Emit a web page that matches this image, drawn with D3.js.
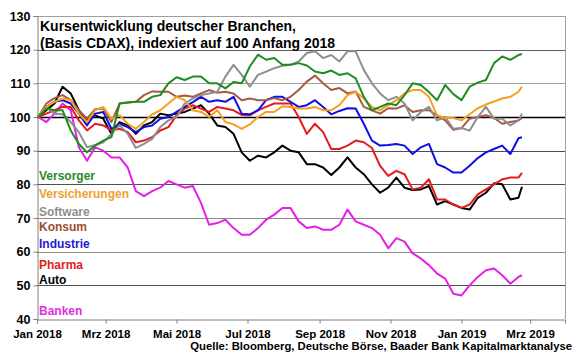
<!DOCTYPE html>
<html><head><meta charset="utf-8">
<script src="https://cdn.jsdelivr.net/npm/d3@7"></script>
<style>
html,body{margin:0;padding:0;background:#fff;}
svg{display:block;font-family:"Liberation Sans",Arial,sans-serif;font-weight:bold;}
</style></head>
<body><svg id="c" width="580" height="359"></svg>
<script>
const dates = ["2018-01-02","2018-01-09","2018-01-16","2018-01-23","2018-01-30","2018-02-06","2018-02-13","2018-02-20","2018-02-27","2018-03-06","2018-03-13","2018-03-20","2018-03-27","2018-04-03","2018-04-10","2018-04-17","2018-04-24","2018-05-01","2018-05-08","2018-05-15","2018-05-22","2018-05-29","2018-06-05","2018-06-12","2018-06-19","2018-06-26","2018-07-03","2018-07-10","2018-07-17","2018-07-24","2018-07-31","2018-08-07","2018-08-14","2018-08-21","2018-08-28","2018-09-04","2018-09-11","2018-09-18","2018-09-25","2018-10-02","2018-10-09","2018-10-16","2018-10-23","2018-10-30","2018-11-06","2018-11-13","2018-11-20","2018-11-27","2018-12-04","2018-12-11","2018-12-18","2018-12-25","2019-01-01","2019-01-08","2019-01-15","2019-01-22","2019-01-29","2019-02-05","2019-02-12","2019-02-19","2019-02-22"];

const auto = [100,102,104,109,107,102,99,100.5,99.5,95,98.5,97.5,95,97.5,98.5,101,100.5,101,101.5,102.5,103.5,101,97.5,97,95,89.5,87,88.5,88,89.5,91.5,90,89.5,86,86,85,82.8,85,88,85,83,80,77.5,79,82,79,78.3,78.5,79.5,74,75,74,73,72.5,76,77.5,80.3,80,75.5,76,79.3];
const banken = [100,98.5,101,104,102,91,87,91,90,88,88,85,78,76.5,78,79,81,80,79,79.5,74.5,68,68.5,69.5,67,65,65,67,69.5,71,73,73,69,67,67.5,66.5,66.5,68,72.5,69,68,67,65,61,64,63,59.5,58,56,53.5,52,47.5,47,50,52.5,54.5,55,53,50.5,52.5,53];
const pharma = [100,101,102,103,103,99,96,98,97.5,96,96.5,95.5,92.5,93,94,96,97,100.5,102.5,103.5,102.5,101.5,103,102.5,102,100.6,100.5,102,103,104,104,104,100,95,98,95.5,90.5,90.5,91.5,93,92.5,90.8,85.5,82.5,84,83,78.5,79,81.5,75.5,75.5,74,73,74,77,78.5,80,81.5,82,82,83.4];
const industrie = [100,103,104.5,105,104,101,97.5,101,101.5,96.5,98,97,95.5,97,97.5,99.5,100,101.5,103,104.4,106,104.5,105,104.5,106,101,100.8,102,105,106,106,104.5,103,103.5,105,103,100.8,101.8,102.6,102.5,98,93,91.5,91.7,92,91.5,89,91,92,86,85,83.5,83.5,85.5,87.8,89.5,90.5,91.5,89,93.7,94];
const konsum = [100,104,105.6,106.5,105,102,99.5,102.3,102.5,98.5,104,104.3,104.5,106.5,107.6,107.5,107.5,106,106.4,106,107,108,107.2,107.5,107,105,105.5,105,105,105.6,105,106,108,110.5,112.3,110,108,108.6,107,107.6,103,102,101,102.6,102.5,103.5,101.5,102,102,100.5,99,96.2,96.7,99.5,100,100.5,99.7,98,98.5,99,99.7];
const software = [100,103,101,100.8,98.5,95.5,91,91.7,92.5,95,97.6,95,90.8,92,93.5,97,99,100,104,105.5,106.5,107,107.5,112,115.5,112.5,109,112.5,113.5,114.5,115.2,115.5,116.5,119,119.5,117.5,118.4,116.5,119.5,119.5,114,110,107,105,106,104,99,101.5,103,99,100,96.5,96.7,96,100,103,99.5,99.5,97.5,99,101];
const versicherungen = [100,103,104.5,105.5,105,101,98.5,102,103,99.5,100.5,98,96.5,98.5,100.8,102,104,106,105,102,101.5,100,102,98.5,97.8,96.5,97.8,100,101.5,101.5,103.2,103,102.5,102.5,103,102,102,103.5,106.5,107.5,105.5,103,102,103.5,105,107,108,108,106,100.5,99.7,99.7,99,100.8,102.6,103.7,104.6,105.5,106,107.5,109];
const versorger = [100,102.5,102,102,96,92,89.5,91.5,93,94,104,104.3,104.5,104.5,106,106.5,110,111.8,111,112,112,110,110,108.5,110.4,110,115,118.5,117,117.5,115.5,115.5,116,115.3,113.5,113,113.8,112.5,113,111.5,106,102,103,104,103.5,106.5,110,109.5,107.4,105,109.5,106.8,105,109,110.2,111,116,118,117,118.4,118.7];

const seriesNames = ["Versorger","Versicherungen","Software","Konsum","Industrie","Pharma","Auto","Banken"];
const seriesColors = ["#1e8c1e","#f5a11c","#8e8e8e","#a65a44","#1010e0","#e41c1c","#000000","#e61fe6"];
const labelColors = ["#2a8a2a","#f0a030","#8e8e8e","#9a5030","#1c1cd0","#e41c1c","#000000","#e030e0"];
const seriesValues = [versorger, versicherungen, software, konsum, industrie, pharma, auto, banken];
const drawOrder = ["Banken","Auto","Pharma","Industrie","Konsum","Software","Versicherungen","Versorger"];
const yTicks = [40,50,60,70,80,90,100,110,120,130];
const xTickDates = ["2018-01-01","2018-03-01","2018-05-01","2018-07-01","2018-09-01","2018-11-01","2019-01-01","2019-03-01"];
const xTickLabels = ["Jan 2018","Mrz 2018","Mai 2018","Jul 2018","Sep 2018","Nov 2018","Jan 2019","Mrz 2019"];
const titleLines = ["Kursentwicklung deutscher Branchen,","(Basis CDAX), indexiert auf 100 Anfang 2018"];
const legendBaselines = [180,198,216,231,248,269,284,315];
const source = "Quelle: Bloomberg, Deutsche Börse, Baader Bank Kapitalmarktanalyse";

const parse = d3.timeParse("%Y-%m-%d");
const svg = d3.select("#c");
const L = 37, R = 565, T = 16, B = 319;
const x = d3.scaleTime().domain([parse("2018-01-01"), parse("2019-03-31")]).range([L, R]);
const y = d3.scaleLinear().domain([40,130]).range([B, T]);

// gridlines
const gridColor = {130:"#a0a0a0",120:"#606060",110:"#a0a0a0",100:"#000000",90:"#505050",80:"#505050",70:"#8a8a8a",60:"#8a8a8a",50:"#505050"};
svg.append("g").selectAll("line").data(yTicks.filter(v => v > 40)).join("line")
  .attr("x1", L).attr("x2", R).attr("y1", d => Math.round(y(d)) + 0.5).attr("y2", d => Math.round(y(d)) + 0.5)
  .attr("stroke", d => gridColor[d]).attr("stroke-width", d => d === 100 ? 1.3 : 1);
// right border
svg.append("line").attr("x1", R + 0.5).attr("x2", R + 0.5).attr("y1", T).attr("y2", B).attr("stroke", "#a0a0a0");

// y axis
const yAxis = d3.axisLeft(y).tickValues(yTicks).tickSize(4).tickPadding(3);
const gy = svg.append("g").attr("transform", `translate(${L + 0.5},0)`).call(yAxis);
gy.select(".domain").attr("stroke", "#808080");
gy.selectAll(".tick line").attr("stroke", "#808080");
gy.selectAll("text").attr("font-size", "12.5px").attr("font-weight", "bold").attr("font-family", "Liberation Sans, Arial, sans-serif").attr("fill", "#000");

// x axis
const xAxis = d3.axisBottom(x).tickValues(xTickDates.map(parse)).tickFormat((d, i) => xTickLabels[i]).tickSize(4).tickPadding(6);
const gx = svg.append("g").attr("transform", `translate(0,${B + 0.5})`).call(xAxis);
gx.select(".domain").attr("stroke", "#808080");
gx.selectAll(".tick line").attr("stroke", "#808080");
gx.selectAll("text").attr("font-size", "11.5px").attr("font-weight", "bold").attr("font-family", "Liberation Sans, Arial, sans-serif").attr("fill", "#000");

// lines
const line = d3.line().x((d, i) => x(parse(dates[i]))).y(d => y(d));
drawOrder.forEach(name => {
  const k = seriesNames.indexOf(name);
  svg.append("path").datum(seriesValues[k])
    .attr("d", line).attr("fill", "none")
    .attr("stroke", seriesColors[k]).attr("stroke-width", 2).attr("stroke-linejoin", "round");
});

// title
svg.append("g").selectAll("text").data(titleLines).join("text")
  .attr("x", 40).attr("y", (d, i) => i === 0 ? 30.5 : 47.5)
  .attr("font-size", "14px").attr("fill", "#000").text(d => d);

// legend labels
svg.append("g").selectAll("text").data(seriesNames).join("text")
  .attr("x", 39).attr("y", (d, i) => legendBaselines[i])
  .attr("font-size", "12px").attr("fill", (d, i) => labelColors[i]).text(d => d);

// source
svg.append("text").attr("x", 572).attr("y", 350).attr("text-anchor", "end")
  .attr("font-size", "11.3px").attr("fill", "#000").text(source);
</script></body></html>
